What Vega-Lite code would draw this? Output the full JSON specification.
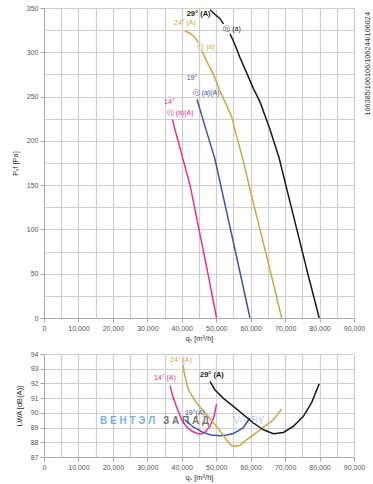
{
  "$schema": "https://vega.github.io/schema/vega-lite/v6.json",
  "background": "white",
  "padding": {"left": 11, "top": 4, "right": 0, "bottom": 2},
  "spacing": 8,
  "config": {
    "view": {"stroke": null},
    "font": "Liberation Sans",
    "axis": {
      "labelFont": "Liberation Sans",
      "titleFont": "Liberation Sans",
      "labelFontSize": 7,
      "labelColor": "#555555",
      "labelFlush": false,
      "titleFontSize": 7.5,
      "titleFontWeight": "normal",
      "titleColor": "#333333",
      "domainColor": "#aaaaaa",
      "tickColor": "#aaaaaa",
      "tickSize": 4,
      "labelPadding": 2,
      "gridColor": "#cfcfcf",
      "gridWidth": 1.2
    }
  },
  "datasets": {
    "top": [
      {"s": "14", "seg": "14b", "q": 37300, "p": 224},
      {"s": "14", "seg": "14b", "q": 38000, "p": 213},
      {"s": "14", "seg": "14b", "q": 39000, "p": 199},
      {"s": "14", "seg": "14b", "q": 40300, "p": 180},
      {"s": "14", "seg": "14b", "q": 42400, "p": 150},
      {"s": "14", "seg": "14b", "q": 45000, "p": 100},
      {"s": "14", "seg": "14b", "q": 47600, "p": 50},
      {"s": "14", "seg": "14b", "q": 50100, "p": 0},
      {"s": "19", "seg": "19b", "q": 44400, "p": 247},
      {"s": "19", "seg": "19b", "q": 47000, "p": 213},
      {"s": "19", "seg": "19b", "q": 49600, "p": 180},
      {"s": "19", "seg": "19b", "q": 51300, "p": 150},
      {"s": "19", "seg": "19b", "q": 54150, "p": 100},
      {"s": "19", "seg": "19b", "q": 57000, "p": 50},
      {"s": "19", "seg": "19b", "q": 59800, "p": 0},
      {"s": "24", "seg": "24a", "q": 40900, "p": 324},
      {"s": "24", "seg": "24a", "q": 42400, "p": 321.5},
      {"s": "24", "seg": "24a", "q": 43800, "p": 317},
      {"s": "24", "seg": "24a", "q": 44800, "p": 311},
      {"s": "24", "seg": "24b", "q": 45800, "p": 302},
      {"s": "24", "seg": "24b", "q": 47200, "p": 290},
      {"s": "24", "seg": "24b", "q": 49200, "p": 275},
      {"s": "24", "seg": "24b", "q": 51100, "p": 256},
      {"s": "24", "seg": "24b", "q": 53000, "p": 240},
      {"s": "24", "seg": "24b", "q": 54500, "p": 227},
      {"s": "24", "seg": "24b", "q": 55400, "p": 213},
      {"s": "24", "seg": "24b", "q": 57700, "p": 180},
      {"s": "24", "seg": "24b", "q": 59500, "p": 150},
      {"s": "24", "seg": "24b", "q": 62700, "p": 100},
      {"s": "24", "seg": "24b", "q": 65900, "p": 50},
      {"s": "24", "seg": "24b", "q": 69000, "p": 0},
      {"s": "29", "seg": "29a", "q": 48200, "p": 348},
      {"s": "29", "seg": "29a", "q": 49600, "p": 343},
      {"s": "29", "seg": "29a", "q": 51100, "p": 338},
      {"s": "29", "seg": "29a", "q": 52100, "p": 332},
      {"s": "29", "seg": "29b", "q": 54000, "p": 321},
      {"s": "29", "seg": "29b", "q": 55400, "p": 309},
      {"s": "29", "seg": "29b", "q": 56900, "p": 294},
      {"s": "29", "seg": "29b", "q": 58800, "p": 277},
      {"s": "29", "seg": "29b", "q": 60800, "p": 259},
      {"s": "29", "seg": "29b", "q": 62700, "p": 244},
      {"s": "29", "seg": "29b", "q": 65600, "p": 213},
      {"s": "29", "seg": "29b", "q": 68300, "p": 180},
      {"s": "29", "seg": "29b", "q": 70200, "p": 150},
      {"s": "29", "seg": "29b", "q": 73400, "p": 100},
      {"s": "29", "seg": "29b", "q": 76600, "p": 50},
      {"s": "29", "seg": "29b", "q": 79900, "p": 0}
    ],
    "toplabels": [
      {"s": "24", "q": 37740, "p": 333, "t": "24° (A)"},
      {"s": "29", "q": 52050, "p": 326.3, "t": "ⓝ (a)"},
      {"s": "24", "q": 44510, "p": 306.3, "t": "ⓝ (a)"},
      {"s": "19", "q": 41430, "p": 270.6, "t": "19°"},
      {"s": "19", "q": 43170, "p": 253.7, "t": "ⓝ (a)(A)"},
      {"s": "14", "q": 34840, "p": 243.5, "t": "14°"},
      {"s": "14", "q": 35620, "p": 231.4, "t": "ⓝ (a)(A)"}
    ],
    "topbold": [
      {"s": "29", "q": 41430, "p": 343.2, "t": "29° (A)"}
    ],
    "side": [
      {"q": 94060, "p": 287, "t": "106385/106106/106244/106024"}
    ],
    "bottom": [
      {"s": "14", "q": 36600, "l": 91.85},
      {"s": "14", "q": 37300, "l": 91.2},
      {"s": "14", "q": 38500, "l": 90.4},
      {"s": "14", "q": 40000, "l": 89.5},
      {"s": "14", "q": 41400, "l": 89.05},
      {"s": "14", "q": 43000, "l": 88.75},
      {"s": "14", "q": 44500, "l": 88.6},
      {"s": "14", "q": 45600, "l": 88.56},
      {"s": "14", "q": 46800, "l": 88.7},
      {"s": "14", "q": 48200, "l": 89.1},
      {"s": "14", "q": 49300, "l": 89.7},
      {"s": "14", "q": 50100, "l": 90.6},
      {"s": "19", "q": 40900, "l": 89.53},
      {"s": "19", "q": 43300, "l": 89.04},
      {"s": "19", "q": 46200, "l": 88.67},
      {"s": "19", "q": 48500, "l": 88.5},
      {"s": "19", "q": 51100, "l": 88.45},
      {"s": "19", "q": 53000, "l": 88.5},
      {"s": "19", "q": 55000, "l": 88.6},
      {"s": "19", "q": 57800, "l": 88.97},
      {"s": "19", "q": 59800, "l": 89.65},
      {"s": "24", "q": 40300, "l": 93.27},
      {"s": "24", "q": 40900, "l": 92.5},
      {"s": "24", "q": 41900, "l": 91.57},
      {"s": "24", "q": 44300, "l": 90.67},
      {"s": "24", "q": 47200, "l": 89.87},
      {"s": "24", "q": 50100, "l": 89.08},
      {"s": "24", "q": 53000, "l": 88.17},
      {"s": "24", "q": 54300, "l": 87.8},
      {"s": "24", "q": 55500, "l": 87.72},
      {"s": "24", "q": 56900, "l": 87.8},
      {"s": "24", "q": 58800, "l": 88.17},
      {"s": "24", "q": 62700, "l": 88.85},
      {"s": "24", "q": 66600, "l": 89.53},
      {"s": "24", "q": 69000, "l": 90.26},
      {"s": "29", "q": 48200, "l": 92.14},
      {"s": "29", "q": 49600, "l": 91.57},
      {"s": "29", "q": 52000, "l": 91.0},
      {"s": "29", "q": 55000, "l": 90.44},
      {"s": "29", "q": 57900, "l": 89.87},
      {"s": "29", "q": 60800, "l": 89.31},
      {"s": "29", "q": 63700, "l": 88.85},
      {"s": "29", "q": 66600, "l": 88.58},
      {"s": "29", "q": 69500, "l": 88.67},
      {"s": "29", "q": 72400, "l": 89.08},
      {"s": "29", "q": 75300, "l": 89.76},
      {"s": "29", "q": 77700, "l": 90.7},
      {"s": "29", "q": 79900, "l": 91.98}
    ],
    "botlabels": [
      {"s": "14", "q": 31930, "l": 92.37, "t": "14° (A)"},
      {"s": "24", "q": 36580, "l": 93.61, "t": "24° (A)"},
      {"s": "19", "q": 40930, "l": 89.97, "t": "19°(A)"}
    ],
    "botbold": [
      {"s": "29", "q": 45290, "l": 92.55, "t": "29° (A)"}
    ],
    "wm1": [{"q": 16260, "l": 89.43, "t": "В Е Н Т Э Л"}],
    "wm2": [{"q": 34550, "l": 89.43, "t": "З А П А Д"}],
    "wm3": [{"q": 54870, "l": 89.43, "t": "V-V.BY"}]
  },
  "vconcat": [
    {
      "width": 310,
      "height": 310,
      "encoding": {
        "x": {
          "field": "q", "type": "quantitative",
          "scale": {"domain": [0, 90000], "nice": false},
          "axis": {
            "title": "qᵥ [m³/h]",
            "titlePadding": 3,
            "values": [0,5000,10000,15000,20000,25000,30000,35000,40000,45000,50000,55000,60000,65000,70000,75000,80000,85000,90000],
            "labelExpr": "datum.value % 10000 === 0 ? format(datum.value, ',') : ''",
            "tickOpacity": {"condition": {"test": "datum.value % 10000 === 0", "value": 1}, "value": 0}
          }
        },
        "y": {
          "field": "p", "type": "quantitative",
          "scale": {"domain": [0, 350], "nice": false},
          "axis": {
            "title": "Pₛf [Pa]",
            "titlePadding": 7,
            "values": [0,25,50,75,100,125,150,175,200,225,250,275,300,325,350],
            "labelExpr": "datum.value % 50 === 0 ? datum.label : ''",
            "tickOpacity": {"condition": {"test": "datum.value % 50 === 0", "value": 1}, "value": 0}
          }
        },
        "color": {
          "field": "s", "type": "nominal",
          "scale": {"domain": ["14", "19", "24", "29"], "range": ["#e6318a", "#3a54a4", "#d1a640", "#1a1a1a"]},
          "legend": null
        }
      },
      "layer": [
        {
          "data": {"name": "top"},
          "mark": {"type": "line", "strokeWidth": 1.5, "clip": true},
          "encoding": {"detail": {"field": "seg"}}
        },
        {
          "data": {"name": "toplabels"},
          "mark": {"type": "text", "align": "left", "baseline": "middle", "fontSize": 7},
          "encoding": {"text": {"field": "t"}}
        },
        {
          "data": {"name": "topbold"},
          "mark": {"type": "text", "align": "left", "baseline": "middle", "fontSize": 7.5, "fontWeight": "bold"},
          "encoding": {"text": {"field": "t"}}
        },
        {
          "data": {"name": "side"},
          "mark": {"type": "text", "align": "center", "baseline": "middle", "fontSize": 7.3, "angle": 270},
          "encoding": {"text": {"field": "t"}, "color": {"value": "#333333"}}
        }
      ]
    },
    {
      "width": 310,
      "height": 103,
      "encoding": {
        "x": {
          "field": "q", "type": "quantitative",
          "scale": {"domain": [0, 90000], "nice": false},
          "axis": {
            "title": "qᵥ [m³/h]",
            "titlePadding": 3,
            "values": [0,5000,10000,15000,20000,25000,30000,35000,40000,45000,50000,55000,60000,65000,70000,75000,80000,85000,90000],
            "labelExpr": "datum.value % 10000 === 0 ? format(datum.value, ',') : ''",
            "tickOpacity": {"condition": {"test": "datum.value % 10000 === 0", "value": 1}, "value": 0}
          }
        },
        "y": {
          "field": "l", "type": "quantitative",
          "scale": {"domain": [87, 94], "nice": false},
          "axis": {
            "title": "LWA [dB(A)]",
            "titlePadding": 7,
            "values": [87, 88, 89, 90, 91, 92, 93, 94]
          }
        },
        "color": {
          "field": "s", "type": "nominal",
          "scale": {"domain": ["14", "19", "24", "29"], "range": ["#e6318a", "#3a54a4", "#d1a640", "#1a1a1a"]},
          "legend": null
        }
      },
      "layer": [
        {
          "data": {"name": "wm1"},
          "mark": {"type": "text", "align": "left", "baseline": "middle", "fontSize": 10, "fontWeight": "bold", "opacity": 0.8},
          "encoding": {"text": {"field": "t"}, "color": {"value": "#5a9fd8"}}
        },
        {
          "data": {"name": "wm2"},
          "mark": {"type": "text", "align": "left", "baseline": "middle", "fontSize": 10, "fontWeight": "bold", "opacity": 0.8},
          "encoding": {"text": {"field": "t"}, "color": {"value": "#555555"}}
        },
        {
          "data": {"name": "wm3"},
          "mark": {"type": "text", "align": "left", "baseline": "middle", "fontSize": 10, "opacity": 0.45},
          "encoding": {"text": {"field": "t"}, "color": {"value": "#5a9fd8"}}
        },
        {
          "data": {"name": "bottom"},
          "mark": {"type": "line", "strokeWidth": 1.5, "clip": true}
        },
        {
          "data": {"name": "botlabels"},
          "mark": {"type": "text", "align": "left", "baseline": "middle", "fontSize": 7},
          "encoding": {"text": {"field": "t"}}
        },
        {
          "data": {"name": "botbold"},
          "mark": {"type": "text", "align": "left", "baseline": "middle", "fontSize": 7.5, "fontWeight": "bold"},
          "encoding": {"text": {"field": "t"}}
        }
      ]
    }
  ]
}
